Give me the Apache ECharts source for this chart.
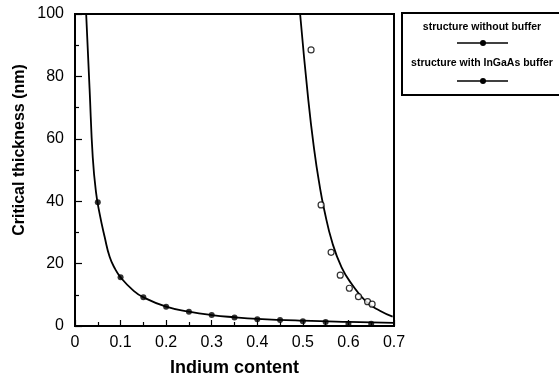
<!DOCTYPE html>
<html>
<head>
<meta charset="utf-8">
<script src="https://cdn.jsdelivr.net/npm/echarts@6/dist/echarts.min.js"></script>
<style>html,body{margin:0;padding:0;background:#fff}#c{width:559px;height:377px}</style>
</head>
<body>
<div id="c"></div>
<script>
// Measured points: structure without buffer (filled dots)
const noBufferX = [0.05, 0.10, 0.15, 0.20, 0.25, 0.30, 0.35, 0.40, 0.45, 0.50, 0.55, 0.60, 0.65];
const noBufferY = [39.7, 15.6, 9.2, 6.2, 4.6, 3.5, 2.7, 2.2, 1.9, 1.5, 1.3, 0.7, 0.7];
// Measured points: structure with InGaAs buffer (open circles)
const bufferX = [0.518, 0.540, 0.562, 0.582, 0.602, 0.622, 0.642, 0.652];
const bufferY = [88.5, 38.8, 23.6, 16.3, 12.1, 9.4, 7.8, 7.0];
// Theoretical curve, without buffer
const curveNoBufX = [0.0245, 0.032, 0.039, 0.046, 0.054, 0.065, 0.076, 0.088, 0.10, 0.127, 0.15, 0.20, 0.25, 0.30, 0.35, 0.40, 0.50, 0.60, 0.70];
const curveNoBufY = [100, 76, 54, 43, 36, 28.6, 22.2, 18.3, 15.6, 11.5, 9.2, 6.2, 4.6, 3.5, 2.8, 2.3, 1.7, 1.3, 1.0];
// Theoretical curve, with buffer
const curveBufX = [0.494, 0.512, 0.525, 0.536, 0.547, 0.565, 0.585, 0.606, 0.639, 0.67, 0.697];
const curveBufY = [100, 72.4, 56.4, 45.7, 37.2, 26.5, 18.8, 13.7, 7.8, 4.8, 3.0];
// Axis ticks
const xTicks = [0, 0.1, 0.2, 0.3, 0.4, 0.5, 0.6, 0.7];
const yTicks = [0, 20, 40, 60, 80, 100];
const legendLabels = ['structure without buffer', 'structure with InGaAs buffer'];

const zip = (a, b) => a.map((v, i) => [v, b[i]]);
const FONT = '"Liberation Sans", Arial, Helvetica, sans-serif';

const chart = echarts.init(document.getElementById('c'));
chart.setOption({
  animation: false,
  backgroundColor: '#fff',
  grid: { left: 75, right: 165, top: 14, bottom: 51, outerBoundsMode: 'none', containLabel: false,
    show: true, borderColor: '#000', borderWidth: 2, backgroundColor: 'transparent' },
  xAxis: {
    type: 'value', min: xTicks[0], max: xTicks[xTicks.length - 1], interval: 0.1,
    name: 'Indium content', nameLocation: 'middle', nameGap: 33,
    nameTextStyle: { fontFamily: FONT, fontWeight: 'bold', fontSize: 18, color: '#000' },
    axisLine: { lineStyle: { color: '#000', width: 2 } },
    axisTick: { inside: true, length: 6, lineStyle: { color: '#000', width: 1.2 } },
    minorTick: { show: true, splitNumber: 2, length: 4, lineStyle: { color: '#000', width: 1.2 } },
    axisLabel: { fontFamily: FONT, fontSize: 16, color: '#000', margin: 9,
      formatter: v => (Math.abs(v) < 1e-9 ? '0' : (+v).toFixed(1)) },
    splitLine: { show: false }
  },
  yAxis: {
    type: 'value', min: yTicks[0], max: yTicks[yTicks.length - 1], interval: 20,
    axisLine: { lineStyle: { color: '#000', width: 2 } },
    axisTick: { inside: true, length: 7, lineStyle: { color: '#000', width: 1.2 } },
    minorTick: { show: true, splitNumber: 2, length: 4, lineStyle: { color: '#000', width: 1.2 } },
    axisLabel: { fontFamily: FONT, fontSize: 16, color: '#000', margin: 11 },
    splitLine: { show: false }
  },
  series: [
    { type: 'line', data: zip(curveNoBufX, curveNoBufY), showSymbol: false, smooth: 0.5,
      lineStyle: { color: '#000', width: 1.8 }, z: 2 },
    { type: 'line', data: zip(curveBufX, curveBufY), showSymbol: false, smooth: 0.5,
      lineStyle: { color: '#000', width: 1.8 }, z: 2 },
    { type: 'scatter', data: zip(noBufferX, noBufferY), symbol: 'circle', symbolSize: 6,
      itemStyle: { color: '#000' }, z: 3 },
    { type: 'scatter', data: zip(bufferX, bufferY), symbol: 'circle', symbolSize: 6,
      itemStyle: { color: '#fff', borderColor: '#000', borderWidth: 1.2 }, z: 3 }
  ],
  graphic: [
    { type: 'text', x: 20, y: 150, rotation: Math.PI / 2,
      style: { text: 'Critical thickness (nm)', font: 'bold 16px ' + FONT, fill: '#000', align: 'center', verticalAlign: 'middle' } },
    { type: 'rect', shape: { x: 402, y: 13, width: 175, height: 82 }, style: { fill: '#fff', stroke: '#000', lineWidth: 2 } },
    { type: 'text', x: 482, y: 27, style: { text: legendLabels[0], font: 'bold 10.5px ' + FONT, fill: '#000', align: 'center', verticalAlign: 'middle' } },
    { type: 'line', shape: { x1: 457, y1: 43, x2: 508, y2: 43 }, style: { stroke: '#000', lineWidth: 1.5 } },
    { type: 'circle', shape: { cx: 483, cy: 43, r: 3 }, style: { fill: '#000' } },
    { type: 'text', x: 482, y: 63, style: { text: legendLabels[1], font: 'bold 10.5px ' + FONT, fill: '#000', align: 'center', verticalAlign: 'middle' } },
    { type: 'line', shape: { x1: 457, y1: 81, x2: 508, y2: 81 }, style: { stroke: '#000', lineWidth: 1.5 } },
    { type: 'circle', shape: { cx: 483, cy: 81, r: 3 }, style: { fill: '#000' } }
  ]
});
</script>
</body>
</html>
